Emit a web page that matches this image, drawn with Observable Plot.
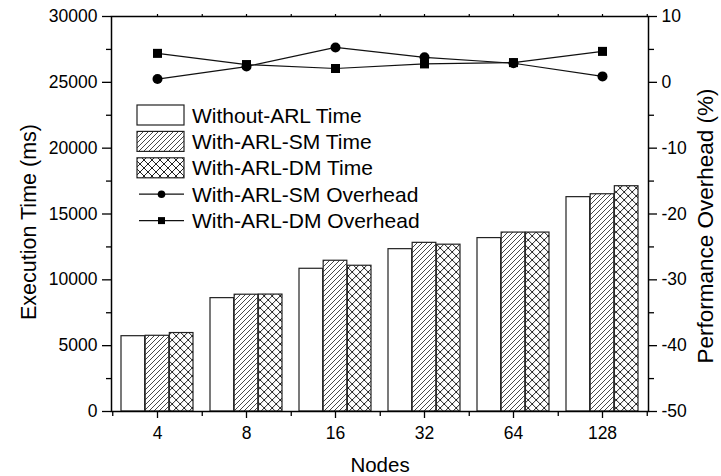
<!DOCTYPE html>
<html><head><meta charset="utf-8">
<script src="https://cdn.jsdelivr.net/npm/d3@7"></script>
<script src="https://cdn.jsdelivr.net/npm/@observablehq/plot@0.6"></script>
<style>body{margin:0;background:#fff} svg{display:block}</style>
</head><body><div id="chart"></div>
<script>
const nodes = ["4", "8", "16", "32", "64", "128"];
const withoutTime = [5720, 8610, 10840, 12330, 13170, 16280];
const smTime = [5750, 8870, 11450, 12810, 13590, 16500];
const dmTime = [5960, 8880, 11070, 12670, 13590, 17110];
const smOverhead = [0.5, 2.4, 5.3, 3.8, 2.9, 0.9];
const dmOverhead = [4.4, 2.7, 2.1, 2.8, 3.0, 4.7];
const leftTicks = [0, 5000, 10000, 15000, 20000, 25000, 30000];
const leftMinorTicks = [2500, 7500, 12500, 17500, 22500, 27500];
const rightTicks = [-50, -40, -30, -20, -10, 0, 10];
const rightMinorTicks = [-45, -35, -25, -15, -5, 5];
const legendLabels = ["Without-ARL Time", "With-ARL-SM Time", "With-ARL-DM Time", "With-ARL-SM Overhead", "With-ARL-DM Overhead"];
const xTitle = "Nodes";
const yTitle = "Execution Time (ms)";
const y2Title = "Performance Overhead (%)";

// overhead (-50..10 %) mapped onto the time scale (0..30000)
const toLeft = v => (v + 50) * 500;
const fromLeft = t => t / 500 - 50;

const W = 721, H = 476, ml = 111, mr = 73, mt = 16, mb = 65;
const step = (W - ml - mr) / nodes.length;
const bandW = step * 0.81;
const barW = bandW / 3;

const rows = nodes.map((n, i) => ({node: n, without: withoutTime[i], sm: smTime[i], dm: dmTime[i], smO: smOverhead[i], dmO: dmOverhead[i]}));
const font = "'Liberation Sans', Arial, Helvetica, sans-serif";
const noText = () => "";

const plot = Plot.plot({
  width: W, height: H,
  marginLeft: ml, marginRight: mr, marginTop: mt, marginBottom: mb,
  style: {fontFamily: font, fontSize: "17.5px", color: "#000", background: "#fff", overflow: "visible"},
  x: {type: "band", domain: nodes, paddingInner: 0.19, paddingOuter: 0.095, axis: null},
  y: {domain: [0, 30000], axis: null},
  marks: [
    Plot.barY(rows, {x: "node", y: "without", fill: "white", stroke: "#222", strokeWidth: 1.2, insetLeft: barW, insetRight: barW, dx: -barW}),
    Plot.barY(rows, {x: "node", y: "sm", fill: "url(#hatchSM)", stroke: "#222", strokeWidth: 1.2, insetLeft: barW, insetRight: barW}),
    Plot.barY(rows, {x: "node", y: "dm", fill: "url(#crossDM)", stroke: "#222", strokeWidth: 1.2, insetLeft: barW, insetRight: barW, dx: barW}),
    Plot.line(rows, {x: "node", y: d => toLeft(d.smO), stroke: "#111", strokeWidth: 1.2}),
    Plot.line(rows, {x: "node", y: d => toLeft(d.dmO), stroke: "#111", strokeWidth: 1.2}),
    Plot.dot(rows, {x: "node", y: d => toLeft(d.smO), symbol: "circle", r: 5, fill: "#000", stroke: "none"}),
    Plot.dot(rows, {x: "node", y: d => toLeft(d.dmO), symbol: "square", r: 5.1, fill: "#000", stroke: "none"}),
    Plot.frame({stroke: "#000", strokeWidth: 1.5}),
    // left axis
    Plot.axisY({anchor: "left", ticks: leftTicks, tickSize: 9, tickPadding: 5, tickFormat: d3.format("d"), label: null, strokeWidth: 1.3}),
    Plot.axisY({anchor: "left", ticks: leftMinorTicks, tickSize: 5, tickFormat: noText, label: null, strokeWidth: 1.3}),
    // right axis
    Plot.axisY({anchor: "right", ticks: rightTicks.map(toLeft), tickSize: 8, tickPadding: 5, tickFormat: d => String(fromLeft(d)), label: null, strokeWidth: 1.3}),
    Plot.axisY({anchor: "right", ticks: rightMinorTicks.map(toLeft), tickSize: 5, tickFormat: noText, label: null, strokeWidth: 1.3}),
    // bottom axis
    Plot.axisX({anchor: "bottom", ticks: nodes, tickSize: 7, tickPadding: 8, label: null, strokeWidth: 1.3}),
    Plot.axisX({anchor: "bottom", ticks: nodes, tickSize: 5, tickFormat: noText, label: null, dx: step / 2, strokeWidth: 1.3}),
    Plot.axisX({anchor: "bottom", ticks: nodes.slice(0, 1), tickSize: 5, tickFormat: noText, label: null, dx: -step / 2, strokeWidth: 1.3}),
    // top axis small ticks
    Plot.axisX({anchor: "top", ticks: nodes, tickSize: 3, tickFormat: noText, label: null, strokeWidth: 1.2}),
    Plot.axisX({anchor: "top", ticks: nodes, tickSize: 3, tickFormat: noText, label: null, dx: step / 2, strokeWidth: 1.2}),
    // titles
    Plot.text([yTitle], {text: d => d, frameAnchor: "left", textAnchor: "middle", lineAnchor: "middle", rotate: -90, dx: -82, dy: 8, fontSize: 21.5}),
    Plot.text([y2Title], {text: d => d, frameAnchor: "right", textAnchor: "middle", lineAnchor: "middle", rotate: -90, dx: 57, dy: 12, fontSize: 22.5}),
    Plot.text([xTitle], {text: d => d, frameAnchor: "bottom", textAnchor: "middle", lineAnchor: "middle", dy: 54, fontSize: 20.5})
  ]
});

const svg = d3.select(plot);
const defs = svg.insert("defs", ":first-child");
const p1 = defs.append("pattern").attr("id", "hatchSM").attr("patternUnits", "userSpaceOnUse").attr("width", 5).attr("height", 5);
p1.append("rect").attr("width", 5).attr("height", 5).attr("fill", "white");
p1.append("path").attr("d", "M-1,1 L1,-1 M0,5 L5,0 M4,6 L6,4").attr("stroke", "#333").attr("stroke-width", 0.9);
const p2 = defs.append("pattern").attr("id", "crossDM").attr("patternUnits", "userSpaceOnUse").attr("width", 8).attr("height", 8);
p2.append("rect").attr("width", 8).attr("height", 8).attr("fill", "white");
p2.append("path").attr("d", "M0,0 L8,8 M8,0 L0,8").attr("stroke", "#222").attr("stroke-width", 1);

// legend inside the plot area
const lg = svg.append("g").attr("font-family", font).attr("font-size", 21).attr("text-anchor", "start");
const lx = 137, lw = 47, ly0 = 115, ldy = 26.4;
const boxFills = ["white", "url(#hatchSM)", "url(#crossDM)"];
legendLabels.forEach((label, i) => {
  const cy = ly0 + i * ldy;
  if (i < 3) {
    lg.append("rect").attr("x", lx).attr("y", cy - 10).attr("width", lw).attr("height", 20)
      .attr("fill", boxFills[i]).attr("stroke", "#222").attr("stroke-width", 1.2);
  } else {
    lg.append("line").attr("x1", lx + 2).attr("x2", lx + lw).attr("y1", cy).attr("y2", cy).attr("stroke", "#111").attr("stroke-width", 1.2);
    if (i === 3) lg.append("circle").attr("cx", lx + lw / 2 + 1).attr("cy", cy).attr("r", 3.8).attr("fill", "#000");
    else lg.append("rect").attr("x", lx + lw / 2 + 1 - 3.5).attr("y", cy - 3.5).attr("width", 7).attr("height", 7).attr("fill", "#000");
  }
  lg.append("text").attr("x", lx + lw + 8).attr("y", cy).attr("dy", "0.36em").attr("fill", "#000").text(label);
});

document.getElementById("chart").appendChild(plot);
</script>
</body></html>
